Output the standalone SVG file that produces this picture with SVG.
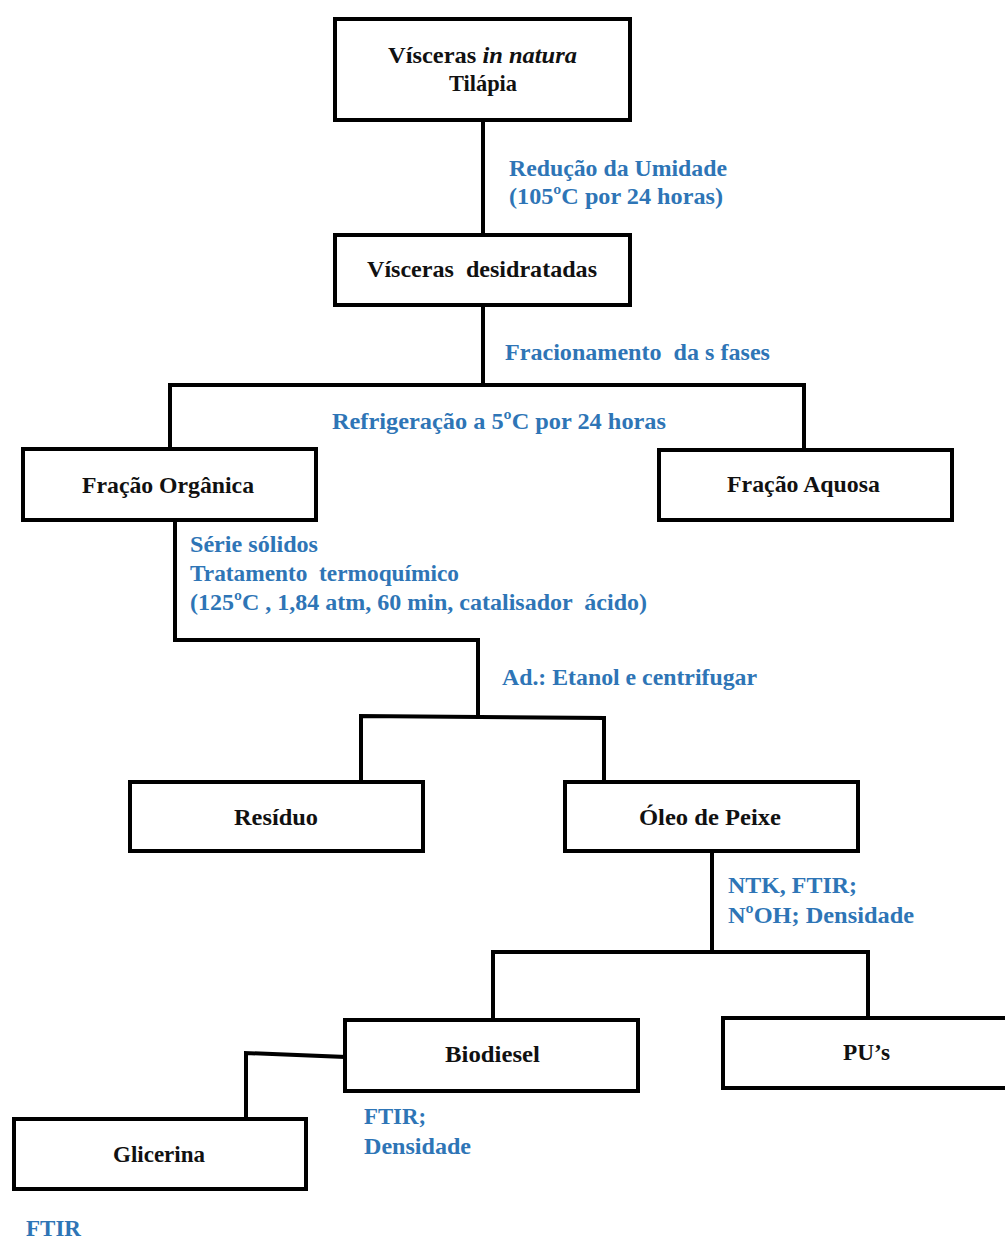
<svg xmlns="http://www.w3.org/2000/svg" width="1005" height="1239" viewBox="0 0 1005 1239">
  <style>
    .box { fill: #ffffff; stroke: #000000; stroke-width: 4; }
    .conn { fill: none; stroke: #000000; stroke-width: 4; stroke-linejoin: miter; stroke-linecap: square; }
    .t { font-weight: bold; font-size: 24px; fill: #111111; white-space: pre; }
    .b { font-weight: bold; font-size: 24px; fill: #2E75B6; white-space: pre; }
  </style>
  <rect width="1005" height="1239" fill="#ffffff"/>

  <g id="connectors">
    <path class="conn" d="M483 120 V235"/>
    <path class="conn" d="M483 305 V385"/>
    <path class="conn" d="M170 449 V385 H804 V450"/>
    <path class="conn" d="M175 520 V640 H478 V716"/>
    <path class="conn" d="M361 782 V716 L604 718 V782"/>
    <path class="conn" d="M712 851 V952"/>
    <path class="conn" d="M493 1020 V952 H868 V1018"/>
    <path class="conn" d="M345 1057 L246 1053 V1119"/>
  </g>

  <g id="labels" font-family="'Liberation Serif', 'DejaVu Serif', serif">
    <text class="b" x="509" y="176" textLength="218" lengthAdjust="spacingAndGlyphs">Redução da Umidade</text>
    <text class="b" x="509" y="204" textLength="214" lengthAdjust="spacingAndGlyphs">(105ºC por 24 horas)</text>
    <text class="b" x="505" y="360" textLength="265" lengthAdjust="spacingAndGlyphs">Fracionamento  da s fases</text>
    <text class="b" x="332" y="429" textLength="334" lengthAdjust="spacingAndGlyphs">Refrigeração a 5ºC por 24 horas</text>
    <text class="b" x="190" y="552" textLength="128" lengthAdjust="spacingAndGlyphs">Série sólidos</text>
    <text class="b" x="190" y="581" textLength="269" lengthAdjust="spacingAndGlyphs">Tratamento  termoquímico</text>
    <text class="b" x="190" y="610" textLength="457" lengthAdjust="spacingAndGlyphs">(125ºC , 1,84 atm, 60 min, catalisador  ácido)</text>
    <text class="b" x="502" y="685" textLength="255" lengthAdjust="spacingAndGlyphs">Ad.: Etanol e centrifugar</text>
    <text class="b" x="728" y="893" textLength="129" lengthAdjust="spacingAndGlyphs">NTK, FTIR;</text>
    <text class="b" x="728" y="923" textLength="186" lengthAdjust="spacingAndGlyphs">NºOH; Densidade</text>
    <text class="b" x="364" y="1124" textLength="62" lengthAdjust="spacingAndGlyphs">FTIR;</text>
    <text class="b" x="364" y="1154" textLength="107" lengthAdjust="spacingAndGlyphs">Densidade</text>
    <text class="b" x="26" y="1236" textLength="55" lengthAdjust="spacingAndGlyphs">FTIR</text>
  </g>

  <g id="nodes" font-family="'Liberation Serif', 'DejaVu Serif', serif">
    <g id="node-visceras-in-natura">
      <rect class="box" x="335" y="19" width="295" height="101"/>
      <text class="t" x="388" y="63" textLength="189" lengthAdjust="spacingAndGlyphs">Vísceras <tspan font-style="italic">in natura</tspan></text>
      <text class="t" x="449" y="91" textLength="68" lengthAdjust="spacingAndGlyphs">Tilápia</text>
    </g>

    <g id="node-visceras-desidratadas">
      <rect class="box" x="335" y="235" width="295" height="70"/>
      <text class="t" x="367" y="277" textLength="230" lengthAdjust="spacingAndGlyphs">Vísceras  desidratadas</text>
    </g>

    <g id="node-fracao-organica">
      <rect class="box" x="23" y="449" width="293" height="71"/>
      <text class="t" x="82" y="493" textLength="172" lengthAdjust="spacingAndGlyphs">Fração Orgânica</text>
    </g>

    <g id="node-fracao-aquosa">
      <rect class="box" x="659" y="450" width="293" height="70"/>
      <text class="t" x="727" y="492" textLength="153" lengthAdjust="spacingAndGlyphs">Fração Aquosa</text>
    </g>

    <g id="node-residuo">
      <rect class="box" x="130" y="782" width="293" height="69"/>
      <text class="t" x="234" y="825" textLength="84" lengthAdjust="spacingAndGlyphs">Resíduo</text>
    </g>

    <g id="node-oleo-de-peixe">
      <rect class="box" x="565" y="782" width="293" height="69"/>
      <text class="t" x="639" y="825" textLength="142" lengthAdjust="spacingAndGlyphs">Óleo de Peixe</text>
    </g>

    <g id="node-biodiesel">
      <rect class="box" x="345" y="1020" width="293" height="71"/>
      <text class="t" x="445" y="1062" textLength="95" lengthAdjust="spacingAndGlyphs">Biodiesel</text>
    </g>

    <g id="node-pus">
      <rect class="box" x="723" y="1018" width="300" height="70"/>
      <text class="t" x="843" y="1060" textLength="47" lengthAdjust="spacingAndGlyphs">PU’s</text>
    </g>

    <g id="node-glicerina">
      <rect class="box" x="14" y="1119" width="292" height="70"/>
      <text class="t" x="113" y="1162" textLength="92" lengthAdjust="spacingAndGlyphs">Glicerina</text>
    </g>
  </g>
</svg>
